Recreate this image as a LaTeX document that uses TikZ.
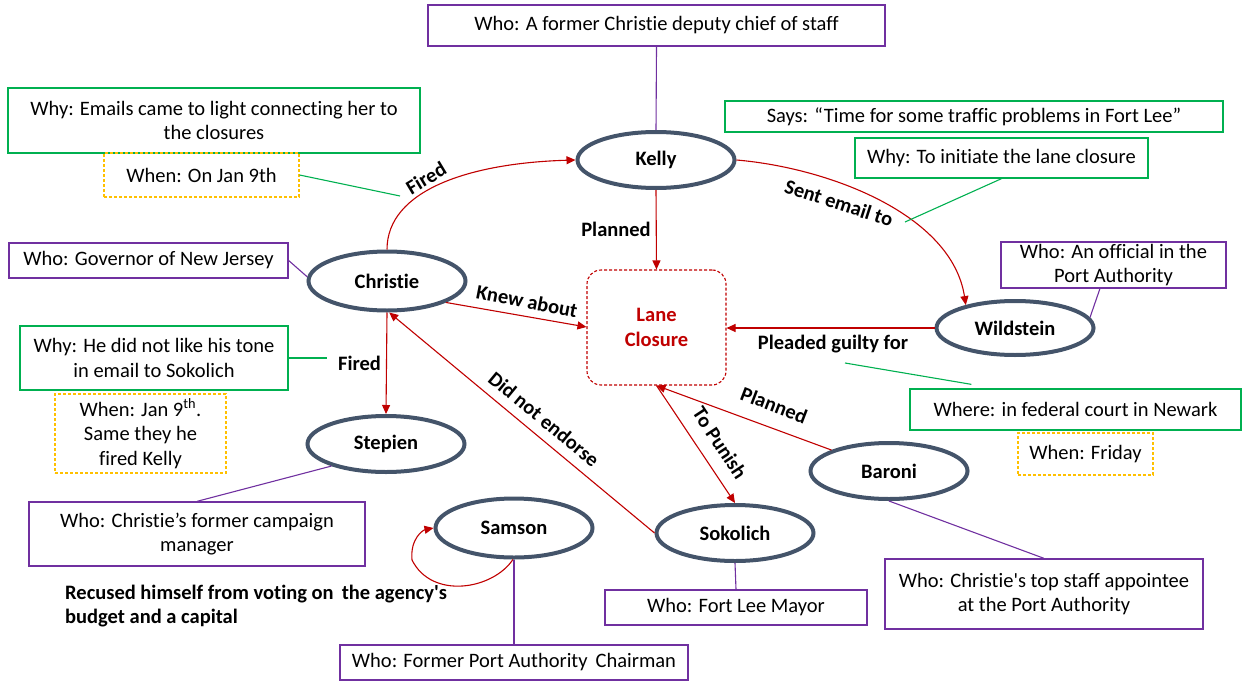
\documentclass[tikz,border=0pt]{standalone}
\usepackage{fontspec}
\setmainfont{Carlito}[Ligatures={NoCommon}]
\usetikzlibrary{shapes.geometric,arrows.meta,calc}
\definecolor{whoC}{RGB}{112,48,160}
\definecolor{whyC}{RGB}{0,176,80}
\definecolor{whenC}{RGB}{255,192,0}
\definecolor{relC}{RGB}{192,0,0}
\definecolor{actorC}{RGB}{68,84,106}
\begin{document}
\begin{tikzpicture}[x=1pt,y=1pt,
  txt/.style={font=\fontsize{20.5}{24.5}\selectfont},
  base/.style={txt, align=center, inner sep=0pt},
  whobox/.style={base, draw=whoC, line width=1.3pt},
  whybox/.style={base, draw=whyC, line width=1.3pt},
  whenbox/.style={base, draw=whenC, line width=1.1pt, dash pattern=on 3pt off 2pt},
  actor/.style={ellipse, draw=actorC, line width=4pt, minimum width=157pt,
    minimum height=56pt, inner sep=0pt, font=\fontsize{20.5}{24.5}\selectfont\bfseries},
  rel/.style={draw=relC, line width=1.1pt, -{Triangle[length=9pt,width=8pt]}},
  lbl/.style={font=\fontsize{20.5}{24.5}\selectfont\bfseries, inner sep=1pt},
  wholine/.style={draw=whoC, line width=1.1pt},
  whyline/.style={draw=whyC, line width=1.1pt},
  sz/.style 2 args={minimum width=#1pt, minimum height=#2pt},
]
\useasboundingbox (0,0) rectangle (1246,-682);

% central event
\node[draw=relC, line width=1.1pt, dash pattern=on 3pt off 2pt, rounded corners=14pt,
  sz={139}{115}, align=center, text=relC, font=\fontsize{20.5}{24.5}\selectfont\bfseries]
  (lane) at (656.5,-327.5) {Lane\\Closure};

% people
\node[actor] (kelly) at (656,-160) {Kelly};
\node[actor, minimum height=59pt] (christie) at (387,-281) {Christie};
\node[actor] (stepien) at (386,-444) {Stepien};
\node[actor, minimum height=59pt] (samson) at (514,-528) {Samson};
\node[actor] (sokolich) at (735,-533) {Sokolich};
\node[actor] (baroni) at (889,-471) {Baroni};
\node[actor, minimum height=54pt] (wildstein) at (1015,-328) {Wildstein};

% annotation boxes
\node[whobox, sz={457}{41}] (topwho) at (656.5,-25.5) {Who: A former Christie deputy chief of staff};
\node[whybox, sz={498}{31}] (says) at (974,-116.5) {Says: “Time for some traffic problems in Fort Lee”};
\node[whybox, sz={293}{40}] (whyinit) at (1001.5,-158) {Why: To initiate the lane closure};
\node[whobox, sz={225}{46}] (official) at (1113.5,-265) {Who: An official in the\\Port Authority};
\node[whybox, sz={412}{65}] (whyemails) at (214,-120.5) {Why: Emails came to light connecting her to\\the closures};
\node[whenbox, sz={195}{44}] (whenjan) at (201.5,-175) {When: On Jan 9th};
\node[whobox, sz={279}{35}] (governor) at (148.5,-260.5) {Who: Governor of New Jersey};
\node[whybox, sz={268}{64}] (whytone) at (154,-358) {Why: He did not like his tone\\in email to Sokolich};
\node[whenbox, sz={171}{79}] (whentone) at (140.5,-433.5) {When: Jan 9\textsuperscript{th}.\\Same they he\\fired Kelly};
\node[whobox, sz={336}{64}] (campaign) at (197,-534) {Who: Christie’s former campaign\\manager};
\node[whybox, sz={331}{41}] (where) at (1075.5,-409.5) {Where: in federal court in Newark};
\node[whenbox, sz={135}{42}] (whenfri) at (1085.5,-454) {When: Friday};
\node[whobox, sz={348}{35}] (chairman) at (514,-662.5) {Who: Former Port Authority\, Chairman};
\node[whobox, sz={262}{35}] (mayor) at (736,-607.5) {Who: Fort Lee Mayor};
\node[whobox, sz={318}{70}] (baronibox) at (1044,-594) {Who: Christie\textquotesingle s top staff appointee\\at the Port Authority};

\node[lbl, align=left, anchor=west] (recused) at (64,-606)
  {Recused himself from voting on\, the agency\textquotesingle s\\budget and a capital};

% relations
\draw[rel] (christie.north) .. controls (387,-190) and (470,-163) .. (kelly.west);
\node[lbl, rotate=31] (lfired1) at (426,-178) {Fired};
\draw[rel] (kelly.south) -- (lane.north)
  node[lbl, midway, left=4pt] (lplan1) {Planned};
\draw[rel] (kelly.east) .. controls (830,-168) and (952,-215) .. (wildstein.155);
\node[lbl, rotate=-18] (lsent) at (839,-203) {Sent email to};
\draw[rel] (christie.-20) -- (lane.west |- 0,-327);
\node[lbl, rotate=-11] (lknew) at (527,-301) {Knew about};
\draw[rel] (wildstein.west) -- (lane.east |- wildstein.west);
\node[lbl] (lplead) at (833,-344) {Pleaded guilty for};
\draw[rel] (christie.south) -- (stepien.north)
  node[lbl, midway, left=4pt] (lfired2) {Fired};
\draw[rel] (sokolich.west) -- (christie.-86);
\node[lbl, rotate=-39.5] (lendorse) at (544,-419) {Did not endorse};
\draw[rel] (lane.south) -- (sokolich.north);
\node[lbl, rotate=-56.7] (lpunish) at (720,-443) {To Punish};
\draw[rel] (baroni.160) -- (lane.south);
\node[lbl, rotate=-21] (lplan2) at (774,-405) {Planned};
\draw[rel] (samson.-92) .. controls +(-20,-30) and +(20,-40) .. (412,-560)
  .. controls +(-2,22) and +(-10,-2) .. (samson.west);

% who links
\draw[wholine] (topwho.south) -- (kelly.north);
\draw[wholine] (governor.east) -- (christie.177);
\draw[wholine] ($(official.south west)!0.44!(official.south east)$) -- (wildstein.8);
\draw[wholine] (stepien.202) -- (campaign.north);
\draw[wholine] (samson.south) -- (chairman.north);
\draw[wholine] (sokolich.south) -- (mayor.north);
\draw[wholine] (baroni.south) -- (baronibox.north);

% why / where links
\coordinate (onfired) at (400,-196);
\coordinate (onsent) at (905,-222);
\coordinate (bystep) at (327,-358);
\coordinate (byplead) at (845,-363);
\draw[whyline] (whenjan.east) -- (onfired);
\draw[whyline] (whyinit.south) -- (onsent);
\draw[whyline] (whytone.east) -- (bystep);
\draw[whyline] (byplead) -- ($(where.north west)+(62,4)$);
\end{tikzpicture}
\end{document}
